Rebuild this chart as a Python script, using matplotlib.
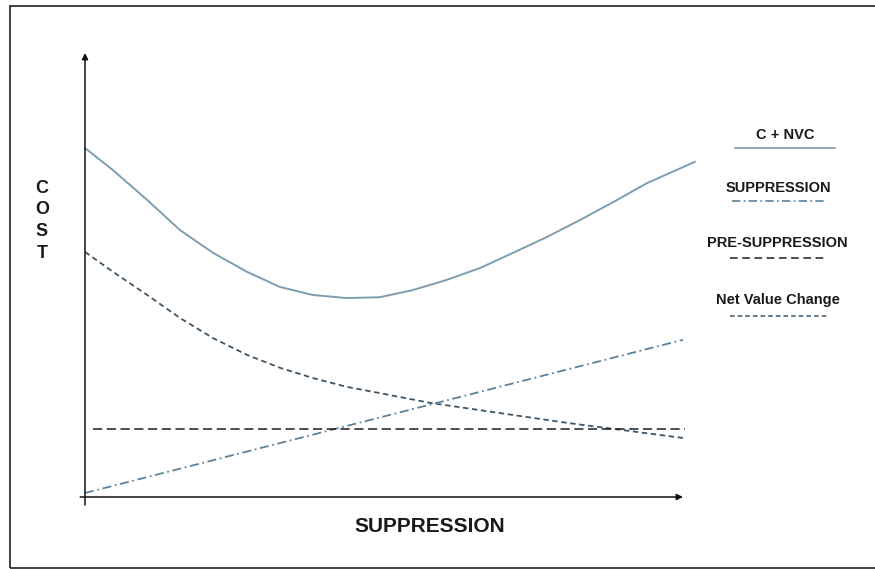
import matplotlib
matplotlib.use("Agg")
import matplotlib.pyplot as plt
from matplotlib.lines import Line2D
from matplotlib.patches import Rectangle

# ---- data ----
cnvc_x = [0, 0.47, 1.04, 1.59, 2.14, 2.71, 3.26, 3.81, 4.38, 4.93, 5.48, 6.05, 6.61, 7.16, 7.73, 8.28, 8.83, 9.40, 10.2]
cnvc_y = [7.86, 7.36, 6.69, 6.01, 5.50, 5.07, 4.73, 4.55, 4.48, 4.50, 4.66, 4.89, 5.16, 5.50, 5.86, 6.24, 6.64, 7.07, 7.55]

nvc_x = [0, 0.47, 1.04, 1.59, 2.14, 2.71, 3.26, 3.81, 4.38, 4.93, 5.77, 8.06, 10.0]
nvc_y = [5.52, 5.07, 4.55, 4.03, 3.58, 3.20, 2.91, 2.68, 2.48, 2.34, 2.12, 1.67, 1.33]

supp_x = [0, 10.0]
supp_y = [0.09, 3.54]

presupp_x = [0.13, 10.03]
presupp_y = [1.53, 1.53]

legend_labels = ["C + NVC", "SUPPRESSION", "PRE-SUPPRESSION", "Net Value Change"]
x_label = "SUPPRESSION"
y_label = ["C", "O", "S", "T"]

# ---- styling ----
W, H = 875, 569
FONT = "Liberation Sans"
col_cnvc = "#7f9db0"
col_nvc = "#3f5566"
col_supp = "#5d8298"
col_pre = "#1e1e1e"
txt = "#1a1a1a"

fig = plt.figure(figsize=(W / 100, H / 100), dpi=100)
fig.patch.set_facecolor("white")

# axes spanning whole figure; data 0 at x-pixel 85, 10 at x-pixel 683; y 0 at pixel 497 (from top)
ax = fig.add_axes([0, 0, 1, 1])
sx = (683 - 85) / 10.0
sy = 44.4
ax.set_xlim(-85 / sx, (W - 85) / sx)
ax.set_ylim(-(H - 497) / sy, 497 / sy)
ax.axis("off")

def fx(p):
    return p / W

def fy(p):
    return 1 - p / H

# outer border
fig.patches.append(Rectangle((fx(10), fy(568)), 1.2, fy(6) - fy(568), transform=fig.transFigure,
                             fill=False, edgecolor="#333333", linewidth=1.3))

# axes arrows
ax.annotate("", xy=(10.0, 0), xytext=(-0.08, 0),
            arrowprops=dict(arrowstyle="-|>", color="#111111", lw=1.1, mutation_scale=9, shrinkA=0, shrinkB=0))
ax.annotate("", xy=(0, 10.0), xytext=(0, -0.18),
            arrowprops=dict(arrowstyle="-|>", color="#111111", lw=1.1, mutation_scale=9, shrinkA=0, shrinkB=0))

# curves
ax.plot(cnvc_x, cnvc_y, color=col_cnvc, lw=1.4, solid_joinstyle="round", solid_capstyle="round")
ax.plot(nvc_x, nvc_y, color=col_nvc, lw=1.3, linestyle=(0, (3, 2)))
ax.plot(supp_x, supp_y, color=col_supp, lw=1.3, linestyle=(0, (5, 2, 1, 2)))
ax.plot(presupp_x, presupp_y, color=col_pre, lw=1.1, linestyle=(0, (6, 3)))

# axis labels
ax.text((430 - 85) / sx, -(527 - 497) / sy, x_label, ha="center", va="center",
        fontsize=15, fontweight="bold", family=FONT, color=txt)
for i, ch in enumerate(y_label):
    fig.text(fx(42), fy(188 + 21.7 * i), ch, ha="center", va="center",
             fontsize=13, fontweight="bold", family=FONT, color=txt)

# legend-like entries
entries = [
    (legend_labels[0], 785, 135, 148, 735, 835, dict(color=col_cnvc, lw=1.2)),
    (legend_labels[1], 778, 188, 201, 732, 827, dict(color=col_supp, lw=1.2, linestyle=(0, (5, 2, 1, 2)))),
    (legend_labels[2], 777, 243, 258, 730, 827, dict(color=col_pre, lw=1.1, linestyle=(0, (5, 3)))),
    (legend_labels[3], 778, 300, 316, 730, 828, dict(color=col_nvc, lw=1.1, linestyle=(0, (3, 2)))),
]
for label, cx, ty, ly, x0, x1, style in entries:
    fig.text(fx(cx), fy(ty), label, ha="center", va="center",
             fontsize=10.5, fontweight="bold", family=FONT, color=txt)
    fig.lines.append(Line2D([fx(x0), fx(x1)], [fy(ly), fy(ly)], transform=fig.transFigure, **style))

fig.savefig("out.png", dpi=100, facecolor="white")
